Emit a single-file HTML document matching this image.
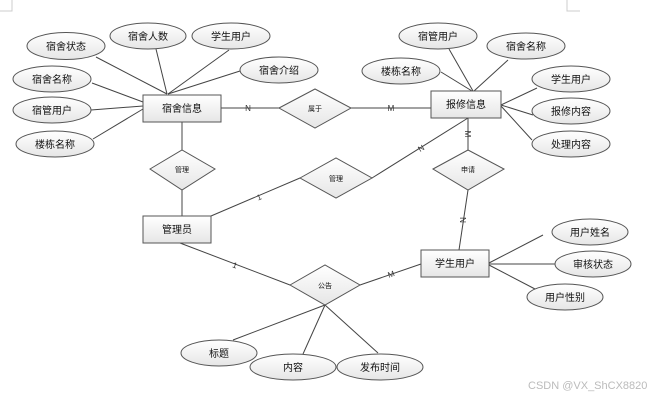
<!DOCTYPE html>
<html><head><meta charset="utf-8"><style>html,body{margin:0;padding:0;background:#fff}svg{display:block}</style></head><body>
<svg width="665" height="401" viewBox="0 0 665 401" xmlns="http://www.w3.org/2000/svg" font-family="Liberation Sans, Noto Sans CJK SC, sans-serif">
<defs><linearGradient id="g" x1="0" y1="0" x2="0" y2="1"><stop offset="0" stop-color="#fff"/><stop offset="1" stop-color="#e6e6e6"/></linearGradient></defs>
<g stroke="#ccc" fill="none"><path d="M0 11H12V0"/><path d="M567 0V11H580"/></g>
<g stroke="#444" stroke-width="1" fill="none">
<line x1="96" y1="57" x2="167" y2="94"/><line x1="156" y1="49" x2="167" y2="94"/><line x1="229" y1="50" x2="168" y2="94"/><line x1="240" y1="71" x2="168" y2="94"/>
<line x1="92" y1="83" x2="143" y2="102"/><line x1="91" y1="110" x2="143" y2="106"/><line x1="93" y1="139" x2="143" y2="109"/>
<line x1="221" y1="108" x2="279" y2="108"/><line x1="351" y1="108" x2="431" y2="108"/>
<line x1="449" y1="49" x2="473" y2="91"/><line x1="508" y1="60" x2="474" y2="91"/><line x1="441" y1="72" x2="472" y2="91"/>
<line x1="501" y1="105" x2="537" y2="88"/><line x1="501" y1="105" x2="533" y2="115"/><line x1="501" y1="106" x2="532" y2="140"/>
<line x1="468" y1="118" x2="468" y2="150"/><line x1="468" y1="190" x2="459" y2="250"/>
<line x1="182" y1="122" x2="182" y2="150"/><line x1="182" y1="190" x2="182" y2="216"/>
<line x1="211" y1="216" x2="300" y2="178"/><line x1="372" y1="178" x2="468" y2="118"/>
<line x1="180" y1="243" x2="290" y2="285"/><line x1="360" y1="285" x2="421" y2="264"/>
<line x1="325" y1="305" x2="233" y2="340"/><line x1="325" y1="305" x2="303" y2="354"/><line x1="325" y1="305" x2="378" y2="353"/>
<line x1="489" y1="263" x2="543" y2="235"/><line x1="489" y1="264" x2="555" y2="264"/><line x1="489" y1="265" x2="535" y2="289"/>
</g>
<g fill="url(#g)" stroke="#555">
<ellipse cx="66" cy="46" rx="39" ry="13.5"/><ellipse cx="148" cy="36" rx="38" ry="13"/><ellipse cx="231" cy="36" rx="39" ry="13"/><ellipse cx="279" cy="70" rx="39" ry="13"/>
<ellipse cx="52" cy="79" rx="39" ry="13"/><ellipse cx="52" cy="110" rx="39" ry="13"/><ellipse cx="55" cy="144" rx="39" ry="13"/>
<ellipse cx="438" cy="36" rx="39" ry="13"/><ellipse cx="526" cy="46" rx="39" ry="13"/><ellipse cx="401" cy="71" rx="39" ry="13"/>
<ellipse cx="571" cy="79" rx="39" ry="13"/><ellipse cx="571" cy="111" rx="39" ry="13"/><ellipse cx="571" cy="144" rx="39" ry="13"/>
<ellipse cx="590" cy="232" rx="38" ry="13"/><ellipse cx="593" cy="264" rx="38" ry="13"/><ellipse cx="565" cy="297" rx="38" ry="13"/>
<ellipse cx="219" cy="353" rx="38" ry="13"/><ellipse cx="293" cy="367" rx="43" ry="13"/><ellipse cx="380" cy="367" rx="43" ry="13"/>
<rect x="143" y="95" width="78" height="27"/><rect x="431" y="91" width="70" height="27"/><rect x="143" y="216" width="68" height="27"/><rect x="421" y="250" width="68" height="27"/>
<polygon points="279,108 315,89 351,108 315,128"/><polygon points="150,169 182,150 215,169 182,190"/><polygon points="300,178 336,158 372,178 336,198"/>
<polygon points="433,169 468,150 504,169 468,190"/><polygon points="290,285 325,265 360,285 325,305"/>
</g>
<g font-size="10" fill="#111" text-anchor="middle">
<text x="66" y="50">宿舍状态</text><text x="148" y="40">宿舍人数</text><text x="231" y="40">学生用户</text><text x="279" y="74">宿舍介绍</text>
<text x="52" y="83">宿舍名称</text><text x="52" y="114">宿管用户</text><text x="55" y="148">楼栋名称</text>
<text x="438" y="40">宿管用户</text><text x="526" y="50">宿舍名称</text><text x="401" y="75">楼栋名称</text>
<text x="571" y="83">学生用户</text><text x="571" y="115">报修内容</text><text x="571" y="148">处理内容</text>
<text x="590" y="236">用户姓名</text><text x="593" y="268">审核状态</text><text x="565" y="301">用户性别</text>
<text x="219" y="357">标题</text><text x="293" y="371">内容</text><text x="380" y="371">发布时间</text>
<text x="182" y="112">宿舍信息</text><text x="466" y="108">报修信息</text><text x="177" y="233">管理员</text><text x="455" y="267">学生用户</text>
</g>
<g font-size="7" fill="#111" text-anchor="middle">
<text x="315" y="111">属于</text><text x="182" y="172">管理</text><text x="336" y="181">管理</text><text x="468" y="172">申请</text><text x="325" y="288">公告</text>
</g>
<g font-size="8" fill="#333" text-anchor="middle">
<text x="248" y="111">N</text><text x="391" y="111">M</text>
<text x="468" y="137" transform="rotate(90 468 134)">M</text><text x="463" y="223" transform="rotate(90 463 220)">N</text>
<text x="421" y="151" transform="rotate(-32 421 148)">N</text><text x="259" y="200" transform="rotate(-23 259 197)">1</text>
<text x="235" y="268" transform="rotate(21 235 265)">1</text><text x="391" y="277" transform="rotate(-19 391 274)">M</text>
</g>
<text x="528" y="389" font-size="11" fill="#bbb">CSDN @VX_ShCX8820</text>
</svg>
</body></html>
